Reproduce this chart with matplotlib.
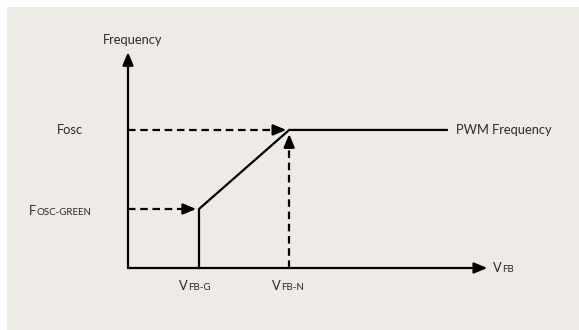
import matplotlib
matplotlib.use("Agg")
import matplotlib.pyplot as plt
from matplotlib.patches import Rectangle

# Schematic values (axis units: origin at the axes crossing)
vfb_g = 1.0          # V_FB-G
vfb_n = 2.27         # V_FB-N
vfb_end = 4.49       # end of PWM frequency line
f_green = 1.0        # Fosc-GREEN
f_osc = 2.34         # Fosc
x_axis_end = 5.06
y_axis_end = 3.66

curve_x = [vfb_g, vfb_g, vfb_n, vfb_end]
curve_y = [0.0, f_green, f_osc, f_osc]

plt.rcParams['font.family'] = ['Lato', 'DejaVu Sans']

fig = plt.figure(figsize=(5.79, 3.30), dpi=100)
fig.patch.set_facecolor('white')
ax = fig.add_axes([0, 0, 1, 1])
ax.set_xlim(-128 / 71, (579 - 128) / 71)
ax.set_ylim(-(330 - 268) / 59, 268 / 59)
ax.axis('off')

# background panel
ax.add_patch(Rectangle((0.012, 0), 1, 0.979, transform=ax.transAxes,
                       facecolor='#eeebe6', edgecolor='none', zorder=0))

lw = 1.6
dash = (0, (3.4, 2.1))
head = dict(arrowstyle='-|>,head_length=0.6,head_width=0.25',
            color='black', lw=lw, shrinkA=0, shrinkB=0, mutation_scale=13)

HX = 10 / 71   # head length in x units
HY = 10 / 59   # head length in y units

def arrow(x0, y0, x1, y1, dashed=False):
    if dashed:
        if x1 != x0:
            fx, fy = x1 - HX * (1 if x1 > x0 else -1), y1
        else:
            fx, fy = x1, y1 - HY * (1 if y1 > y0 else -1)
        ax.plot([x0, fx], [y0, fy], color='black', lw=lw, linestyle=dash,
                dash_capstyle='butt', zorder=2)
        ax.annotate('', xy=(x1, y1), xytext=(fx, fy), arrowprops=head, zorder=3)
    else:
        ax.annotate('', xy=(x1, y1), xytext=(x0, y0), arrowprops=head, zorder=3)

# axes
arrow(0, 0, 0, y_axis_end)
arrow(0, 0, x_axis_end, 0)

# curve
ax.plot(curve_x, curve_y, color='black', lw=lw, solid_joinstyle='miter', zorder=2)

# dashed guide arrows
arrow(0, f_green, vfb_g - 0.04, f_green, dashed=True)
arrow(0, f_osc, vfb_n - 0.04, f_osc, dashed=True)
arrow(vfb_n, 0, vfb_n, f_osc - 0.07, dashed=True)

fs = 9.3
small = 7.0
tc = '#2a2a2a'

def label(x, y, big, sub):
    t = ax.text(x, y, big, fontsize=fs, ha='left', va='center', color=tc)
    if sub:
        ax.annotate(sub, xy=(1, 0.03), xycoords=t, fontsize=small,
                    ha='left', va='bottom', color=tc)
    return t

px = lambda X: (X - 128) / 71
py = lambda Y: (268 - Y) / 59

ax.text(px(103), py(40), 'Frequency', fontsize=fs, ha='left', va='center', color=tc)
ax.text(px(57), py(130), 'Fosc', fontsize=fs, ha='left', va='center', color=tc)
label(px(29), py(211), 'F', 'OSC-GREEN')
label(px(179), py(286), 'V', 'FB-G')
label(px(272), py(286), 'V', 'FB-N')
label(px(493), py(268), 'V', 'FB')
ax.text(px(456), py(130), 'PWM Frequency', fontsize=fs, ha='left', va='center', color=tc)

fig.savefig('out.png', dpi=100)
